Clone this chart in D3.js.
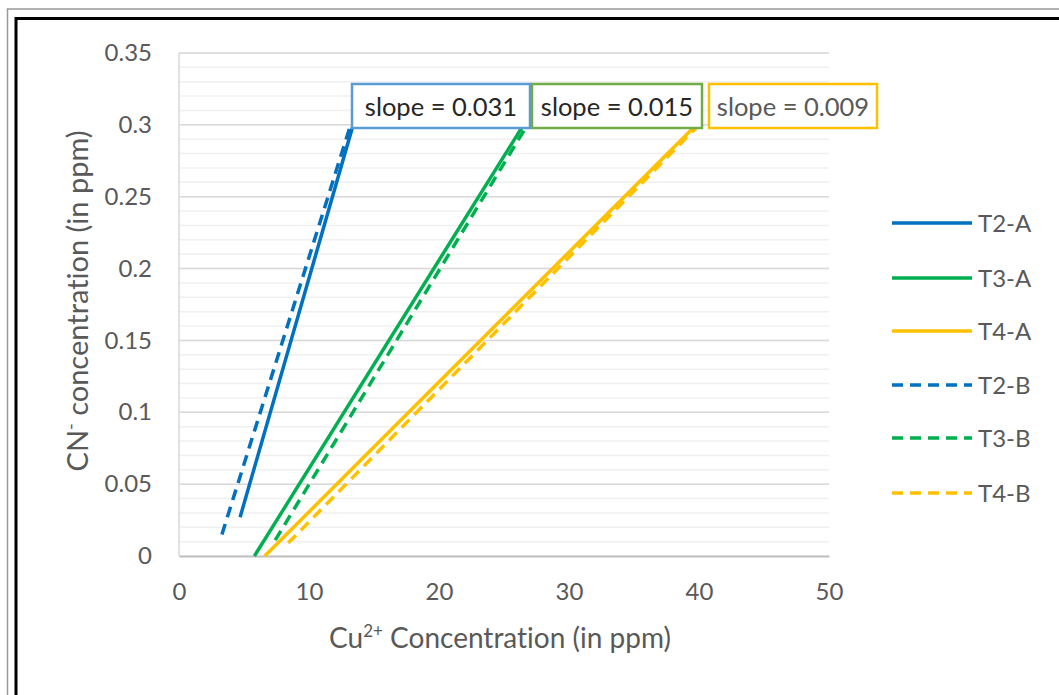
<!DOCTYPE html>
<html>
<head>
<meta charset="utf-8">
<script src="https://cdn.jsdelivr.net/npm/d3@7"></script>
<style>
  html, body { margin: 0; padding: 0; background: #fff; }
  svg { display: block; font-family: Lato, "Open Sans", sans-serif; font-variant-ligatures: none; }
</style>
</head>
<body>
<svg id="chart" width="1059" height="695"></svg>
<script>
// ---- data ----
const seriesNames = ["T2-A", "T3-A", "T4-A", "T2-B", "T3-B", "T4-B"];
const seriesColors = ["#0070C0", "#00B050", "#FFC000", "#0070C0", "#00B050", "#FFC000"];
const seriesDashed = [false, false, false, true, true, true];
const seriesX = [
  [4.7, 13.4],
  [5.8, 26.5],
  [6.6, 39.8],
  [3.3, 13.2],
  [7.4, 26.8],
  [8.4, 40.0]
];
const seriesY = [
  [0.027, 0.30],
  [0.0, 0.30],
  [0.0, 0.30],
  [0.015, 0.30],
  [0.011, 0.30],
  [0.009, 0.30]
];
const slopeLabels = ["slope = 0.031", "slope = 0.015", "slope = 0.009"];
const slopeColors = ["#5B9BD5", "#70AD47", "#FFC000"];
const slopeTextColors = ["#262626", "#262626", "#595959"];
const xTicks = [0, 10, 20, 30, 40, 50];
const yTicks = [0, 0.05, 0.1, 0.15, 0.2, 0.25, 0.3, 0.35];
const yMinorTicks = d3.range(0, 0.3501, 0.01);

// ---- layout ----
const svg = d3.select("#chart");
const W = 1059, H = 695;
const plot = { left: 179, right: 829, top: 53, bottom: 556 };

// outer frames
svg.append("rect").attr("x", 7.5).attr("y", 9).attr("width", W + 20).attr("height", H + 20)
  .attr("fill", "none").attr("stroke", "#999").attr("stroke-width", 1.5);
svg.append("rect").attr("x", 16).attr("y", 18.5).attr("width", W + 20).attr("height", H + 20)
  .attr("fill", "none").attr("stroke", "#000").attr("stroke-width", 3);

const x = d3.scaleLinear().domain([0, 50]).range([plot.left, plot.right]);
const y = d3.scaleLinear().domain([0, 0.35]).range([plot.bottom, plot.top]);

// minor gridlines
svg.append("g").selectAll("line").data(yMinorTicks).join("line")
  .attr("x1", plot.left).attr("x2", plot.right)
  .attr("y1", d => y(d)).attr("y2", d => y(d))
  .attr("stroke", "#F0F0F0").attr("stroke-width", 1.5);

// major gridlines
svg.append("g").selectAll("line").data(yTicks.slice(1)).join("line")
  .attr("x1", plot.left).attr("x2", plot.right)
  .attr("y1", d => y(d)).attr("y2", d => y(d))
  .attr("stroke", "#D9D9D9").attr("stroke-width", 1.5);

// left vertical line
svg.append("line").attr("x1", plot.left).attr("x2", plot.left)
  .attr("y1", plot.top).attr("y2", plot.bottom)
  .attr("stroke", "#D9D9D9").attr("stroke-width", 1.5);

// x axis
const xAxis = d3.axisBottom(x).tickValues(xTicks).tickSize(0).tickPadding(27).tickFormat(d3.format("d"));
const gx = svg.append("g").attr("transform", `translate(0,${plot.bottom})`).call(xAxis);
gx.select(".domain").attr("stroke", "#BFBFBF").attr("stroke-width", 2);
gx.selectAll("text").attr("fill", "#595959").attr("font-size", 24).attr("font-family", "Lato, sans-serif");

// y axis
const yAxis = d3.axisLeft(y).tickValues(yTicks).tickSize(0).tickPadding(27)
  .tickFormat(d => d === 0 ? "0" : String(+d.toFixed(2)));
const gy = svg.append("g").attr("transform", `translate(${plot.left},0)`).call(yAxis);
gy.select(".domain").remove();
gy.selectAll("text").attr("fill", "#595959").attr("font-size", 24).attr("font-family", "Lato, sans-serif");

// series lines
const line = d3.line().x(d => x(d[0])).y(d => y(d[1]));
seriesNames.forEach((name, i) => {
  const pts = seriesX[i].map((v, j) => [v, seriesY[i][j]]);
  svg.append("path").datum(pts)
    .attr("d", line)
    .attr("fill", "none")
    .attr("stroke", seriesColors[i])
    .attr("stroke-width", 3.5)
    .attr("stroke-dasharray", seriesDashed[i] ? "11,7" : null);
});

// slope boxes
const boxes = [
  { x: 352, w: 178 },
  { x: 532, w: 170 },
  { x: 709, w: 168 }
];
slopeLabels.forEach((lab, i) => {
  const b = boxes[i];
  svg.append("rect").attr("x", b.x).attr("y", 84).attr("width", b.w).attr("height", 44)
    .attr("fill", "#fff").attr("stroke", slopeColors[i]).attr("stroke-width", 2.5);
  svg.append("text").attr("x", b.x + b.w / 2).attr("y", 116)
    .attr("text-anchor", "middle").attr("font-size", 25.5)
    .attr("fill", slopeTextColors[i]).text(lab);
});

// legend
const legendY = [223, 278, 331, 385, 438, 493];
seriesNames.forEach((name, i) => {
  svg.append("line").attr("x1", 892).attr("x2", 972)
    .attr("y1", legendY[i]).attr("y2", legendY[i])
    .attr("stroke", seriesColors[i]).attr("stroke-width", 3.5)
    .attr("stroke-dasharray", seriesDashed[i] ? "11,7" : null);
  svg.append("text").attr("x", 978).attr("y", legendY[i] + 9)
    .attr("font-size", 24).attr("fill", "#595959").text(name);
});

// axis titles
const xt = svg.append("text").attr("x", 500).attr("y", 648)
  .attr("text-anchor", "middle").attr("font-size", 28).attr("fill", "#595959");
xt.append("tspan").text("Cu");
xt.append("tspan").attr("font-size", 17).attr("dy", -11).text("2+");
xt.append("tspan").attr("dy", 11).text(" Concentration (in ppm)");

const yt = svg.append("text").attr("transform", `translate(88,${301}) rotate(-90)`)
  .attr("text-anchor", "middle").attr("font-size", 29).attr("fill", "#595959");
yt.append("tspan").text("CN");
yt.append("tspan").attr("font-size", 18).attr("dy", -11).text("-");
yt.append("tspan").attr("dy", 11).text(" concentration (in ppm)");
</script>
</body>
</html>
